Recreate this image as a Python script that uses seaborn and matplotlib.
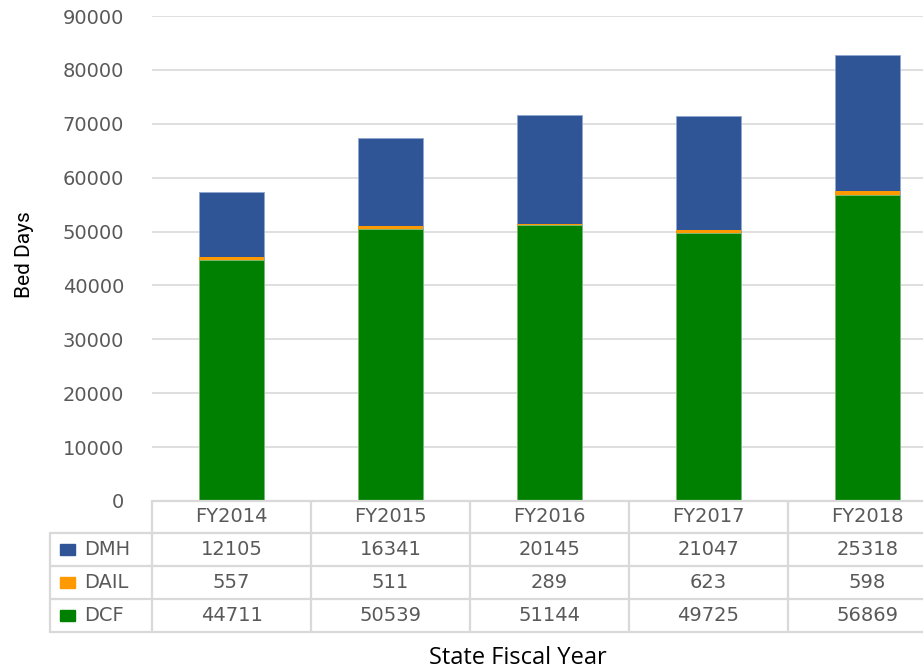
import numpy as np
import matplotlib
matplotlib.use('Agg')
import matplotlib.pyplot as plt
import matplotlib.transforms as mtransforms
from matplotlib.patches import Rectangle
from matplotlib.lines import Line2D
import seaborn as sns

years = ['FY2014', 'FY2015', 'FY2016', 'FY2017', 'FY2018']
dmh = [12105, 16341, 20145, 21047, 25318]
dail = [557, 511, 289, 623, 598]
dcf = [44711, 50539, 51144, 49725, 56869]
series_names = ['DMH', 'DAIL', 'DCF']
colors = {'DMH': '#2F5597', 'DAIL': '#FF9900', 'DCF': '#008000'}

sns.set_style('white')
plt.rcParams['font.family'] = ['DejaVu Sans']
txt = '#595959'
grid = '#d9d9d9'
fs = 14

W, H = 923, 670
fig = plt.figure(figsize=(W / 100, H / 100), dpi=100)
ax = fig.add_axes([152 / W, 1 - 501 / H, (W - 152) / W, (501 - 16) / H])

dcf_arr = np.array(dcf)
mid = dcf_arr + np.array(dail)
top = mid + np.array(dmh)

# stacked bars drawn as cumulative layers
sns.barplot(x=years, y=top, color=colors['DMH'], width=0.41, saturation=1,
            edgecolor='#8fa7d0', linewidth=0.6, ax=ax)
sns.barplot(x=years, y=mid, color=colors['DAIL'], width=0.41, saturation=1,
            linewidth=0, ax=ax)
sns.barplot(x=years, y=dcf_arr, color=colors['DCF'], width=0.41, saturation=1,
            edgecolor='#7fbf7f', linewidth=0.6, ax=ax)

ax.set_ylim(0, 90000)
ax.set_yticks(np.arange(0, 90001, 10000))
ax.set_yticklabels([str(v) for v in range(0, 90001, 10000)], fontsize=fs, color=txt)
ax.tick_params(axis='y', length=0, pad=20)
ax.set_xlim(-0.5, -0.5 + (W - 152) / 159)
ax.set_xticks([])
ax.set_xlabel('')
ax.yaxis.grid(True, color=grid, linewidth=1.2)
ax.set_axisbelow(True)
for s in ax.spines.values():
    s.set_visible(False)

fig.text(24 / W, 1 - 255 / H, 'Bed Days', rotation=90, ha='center', va='center',
         fontsize=15, color='black', family=['Liberation Sans Narrow', 'Roboto', 'DejaVu Sans'])
fig.text(518 / W, 1 - 658 / H, 'State Fiscal Year', ha='center', va='center',
         fontsize=17, color='black', family=['Open Sans', 'DejaVu Sans'])

# data table under the chart
trans = mtransforms.blended_transform_factory(ax.transData, fig.transFigure)
fy = lambda p: 1 - p / H
row_edges = [501, 533, 566, 599, 632]
lw = 1.6
xmax = len(years) - 0.5
for i, y in enumerate(row_edges):
    fig.add_artist(Line2D([-0.5, xmax], [fy(y), fy(y)], transform=trans,
                          color=grid, lw=lw, clip_on=False))
    if i > 0:
        fig.add_artist(Line2D([50 / W, 152 / W], [fy(y), fy(y)], color=grid, lw=lw))
for k in range(len(years) + 1):
    fig.add_artist(Line2D([k - 0.5, k - 0.5], [fy(501), fy(632)], transform=trans,
                          color=grid, lw=lw, clip_on=False))
fig.add_artist(Line2D([50 / W, 50 / W], [fy(533), fy(632)], color=grid, lw=lw))

for k, yr in enumerate(years):
    fig.text(k, fy(517), yr, transform=trans, ha='center', va='center',
             fontsize=fs, color=txt)

values = {'DMH': dmh, 'DAIL': dail, 'DCF': dcf}
for r, name in enumerate(series_names):
    yc = (row_edges[r + 1] + row_edges[r + 2]) / 2
    fig.add_artist(Rectangle((60 / W, fy(yc + 5)), 15 / W, 11 / H,
                             color=colors[name], transform=fig.transFigure))
    fig.text(84 / W, fy(yc), name, ha='left', va='center', fontsize=fs, color=txt)
    for k, v in enumerate(values[name]):
        fig.text(k, fy(yc), str(v), transform=trans, ha='center', va='center',
                 fontsize=fs, color=txt)

fig.savefig('out.png', dpi=100)
